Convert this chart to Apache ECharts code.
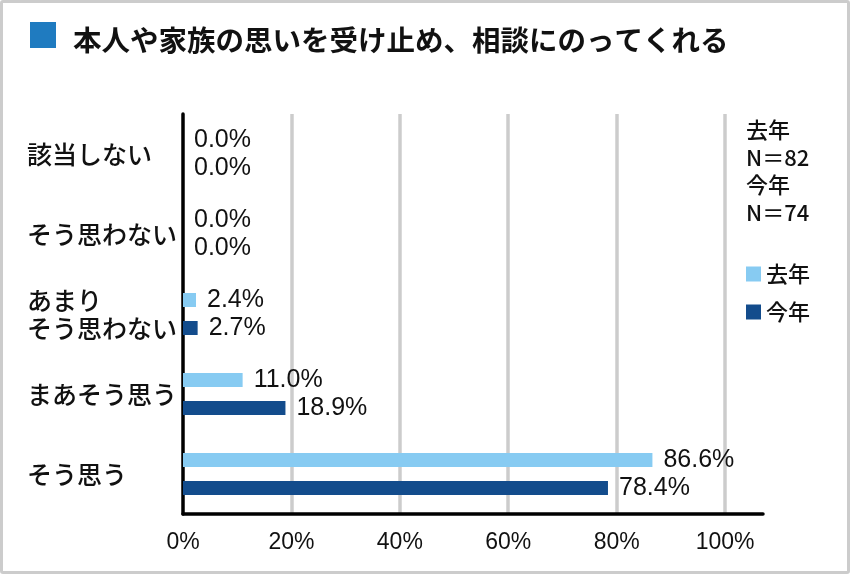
<!DOCTYPE html>
<html>
<head>
<meta charset="utf-8">
<script src="https://cdn.jsdelivr.net/npm/echarts@6/dist/echarts.min.js"></script>
<style>
    body { margin: 0; background: #fff; }
    #main { position: absolute; left: 0; top: 0; width: 850px; height: 574px; }
    #frame {
        position: absolute; left: 0; top: 0; width: 850px; height: 574px;
        box-sizing: border-box; border: 3px solid #cccccc; border-radius: 3px;
        pointer-events: none;
    }
</style>
</head>
<body>
<div id="main"></div>
<div id="frame"></div>
<script>
    // data
    var titleText = '本人や家族の思いを受け止め、相談にのってくれる';
    var categories = ['該当しない', 'そう思わない', 'あまり\nそう思わない', 'まあそう思う', 'そう思う'];
    var seriesNames = ['去年', '今年'];
    var lastYear = [0.0, 0.0, 2.4, 11.0, 86.6];
    var thisYear = [0.0, 0.0, 2.7, 18.9, 78.4];
    var noteLines = ['去年', 'N＝82', '今年', 'N＝74'];

    var font = 'Noto Sans CJK JP';
    var numFont = '"Liberation Sans", "Noto Sans CJK JP"';
    var chart = echarts.init(document.getElementById('main'));

    var label = {
        show: true,
        position: 'right',
        distance: 11,
        color: '#111',
        fontSize: 25,
        fontFamily: numFont,
        formatter: function (p) { return p.value.toFixed(1) + '%'; }
    };

    var option = {
        animation: false,
        textStyle: { fontFamily: font },
        title: {
            text: titleText,
            left: 68,
            top: 19,
            textStyle: { fontSize: 28.5, fontWeight: 'bold', color: '#111', fontFamily: font, lineHeight: 32 }
        },
        graphic: [
            { type: 'rect', left: 30, top: 22, shape: { width: 26, height: 26 }, style: { fill: '#1f7bc0' } },
            {
                type: 'text', left: 746, top: 116,
                style: { text: noteLines.join('\n'), fontSize: 22, lineHeight: 27.5, fill: '#111', fontFamily: font, fontWeight: 500 }
            }
        ],
        legend: {
            data: seriesNames,
            orient: 'vertical',
            left: 741,
            top: 258,
            icon: 'rect',
            itemWidth: 15,
            itemHeight: 15,
            itemGap: 16,
            textStyle: { fontSize: 22, color: '#111', fontFamily: font, fontWeight: 500 }
        },
        grid: { left: 183, right: 87, top: 114, bottom: 60, containLabel: false },
        xAxis: {
            type: 'value',
            min: 0,
            max: 107,
            interval: 20,
            axisLine: { show: true, lineStyle: { color: '#000', width: 3.5 } },
            axisTick: { show: false },
            axisLabel: {
                formatter: '{value}%', fontSize: 23, color: '#111', margin: 17,
                showMaxLabel: false, fontFamily: numFont
            },
            splitLine: { show: true, showMinLine: false, showMaxLine: false, lineStyle: { color: '#cccccc', width: 3.5 } }
        },
        yAxis: {
            type: 'category',
            inverse: true,
            data: categories,
            axisLine: { show: true, lineStyle: { color: '#000', width: 3.5 } },
            axisTick: { show: false },
            axisLabel: { align: 'left', margin: 156, fontSize: 25, lineHeight: 28, color: '#111', fontFamily: font, fontWeight: 500 }
        },
        series: [
            {
                name: seriesNames[0], type: 'bar', data: lastYear,
                barWidth: 14, barGap: '100%',
                itemStyle: { color: '#87cbf2' }, label: label
            },
            {
                name: seriesNames[1], type: 'bar', data: thisYear,
                barWidth: 14, barGap: '100%',
                itemStyle: { color: '#134c8c' }, label: label
            }
        ]
    };
    chart.setOption(option);
</script>
</body>
</html>
